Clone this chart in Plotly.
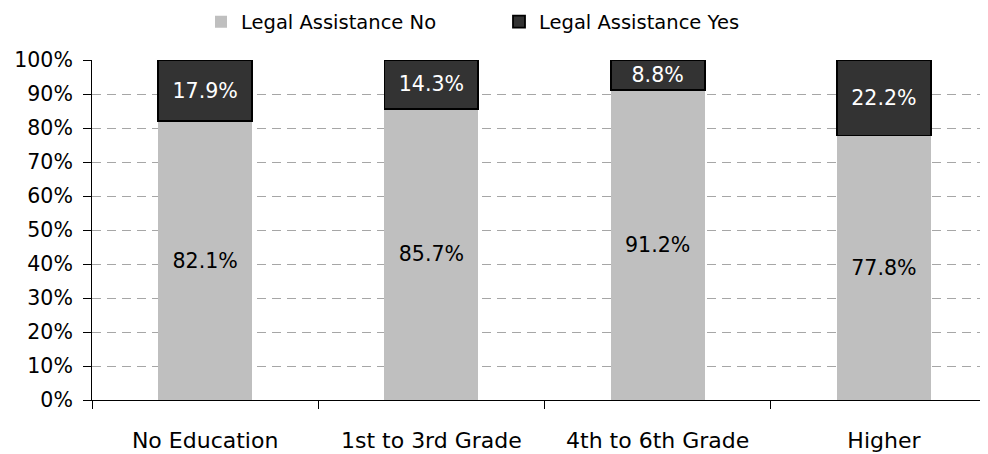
import plotly.graph_objects as go

categories = ["No Education", "1st to 3rd Grade", "4th to 6th Grade", "Higher"]
legal_no = [82.1, 85.7, 91.2, 77.8]
legal_yes = [17.9, 14.3, 8.8, 22.2]

FONT = "DejaVu Sans"

fig = go.Figure()
fig.add_trace(go.Bar(
    x=categories, y=[v / 100 for v in legal_no], name="Legal Assistance No",
    marker=dict(color="#bfbfbf", line=dict(width=0)),
    text=[f"{v:.1f}%" for v in legal_no], textposition="inside",
    insidetextanchor="middle", textangle=0,
    textfont=dict(color="#000000", size=21.5, family=FONT),
    width=0.415,
))
fig.add_trace(go.Bar(
    x=categories, y=[v / 100 for v in legal_yes], name="Legal Assistance Yes",
    marker=dict(color="#333333", line=dict(width=1.8, color="#000000")),
    text=[f"{v:.1f}%" for v in legal_yes], textposition="inside",
    insidetextanchor="middle", textangle=0,
    textfont=dict(color="#ffffff", size=21.5, family=FONT),
    width=0.415,
))

fig.update_layout(
    barmode="stack",
    width=988, height=454,
    margin=dict(l=84, r=8, t=52, b=62, autoexpand=False),
    paper_bgcolor="white", plot_bgcolor="white",
    font=dict(family=FONT, size=20, color="#000000"),
    uniformtext=dict(minsize=10, mode="show"),
    legend=dict(orientation="h", x=(201 - 92) / 896, xanchor="left",
                y=1 + (60 - 22) / 340, yanchor="middle",
                font=dict(size=19.5, family=FONT), entrywidth=253,
                entrywidthmode="pixels", traceorder="normal"),
    showlegend=True,
)
fig.update_xaxes(
    range=[-0.5, 3.46], showline=True, linecolor="#000000", linewidth=1,
    ticks="outside", tickson="boundaries", ticklen=8, tickcolor="#000000",
    showgrid=False, tickfont=dict(size=22, family=FONT), automargin=False,
    ticklabelstandoff=21,
)
fig.update_yaxes(
    range=[0, 1], dtick=0.1, tickformat=".0%", showline=True, linecolor="#000000",
    linewidth=1, ticks="outside", ticklen=8, tickcolor="#000000",
    showgrid=True, gridcolor="#a6a6a6", griddash="9px,6px", gridwidth=1,
    zeroline=False, tickfont=dict(size=20.5, family=FONT), automargin=False,
    ticklabelstandoff=6,
)

fig.write_html("out.html")
